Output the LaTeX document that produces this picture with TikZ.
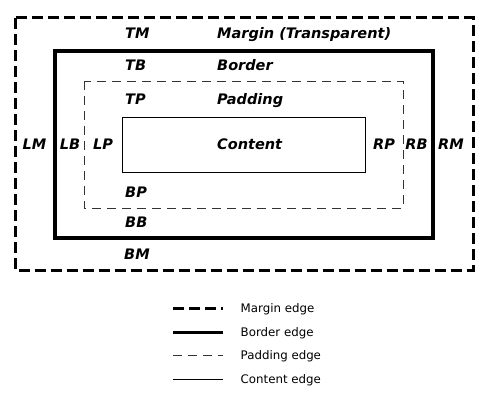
\documentclass[tikz,border=0pt]{standalone}
\usepackage{fontspec}
\setmainfont{DejaVu Sans}
\usetikzlibrary{positioning}
\tikzset{
  marginedge/.style={line width=3pt,dash pattern=on 11pt off 5pt},
  borderedge/.style={line width=3.2pt},
  paddingedge/.style={line width=0.9pt,draw=black!80,dash pattern=on 9pt off 6pt},
  contentedge/.style={line width=0.9pt},
  boxlabel/.style={font=\fontsize{14.5}{16}\selectfont\bfseries\itshape,inner sep=0pt},
  keytext/.style={font=\fontsize{11.8}{14}\selectfont,anchor=base west,inner sep=0pt}
}
\begin{document}
\begin{tikzpicture}[x=1pt,y=-1pt]
  \useasboundingbox (0,0) rectangle (501,409);
  % the four nested boxes
  \draw[marginedge] (15,18) rectangle (473,270);
  \draw[borderedge] (55,51) rectangle (433,238);
  \draw[paddingedge] (84,81) rectangle (403,208);
  \draw[contentedge] (122,117) rectangle (365,172);
  % top and bottom labels
  \node[boxlabel,anchor=base west] (tm) at (125,39) {TM};
  \node[boxlabel,anchor=base west] (tb) at (125,71) {TB};
  \node[boxlabel,anchor=base west] (tp) at (125,105) {TP};
  \node[boxlabel,anchor=base west] (bp) at (125,197) {BP};
  \node[boxlabel,anchor=base west] (bb) at (125,227) {BB};
  \node[boxlabel,anchor=base west] (bm) at (124,259) {BM};
  \node[boxlabel,anchor=base west] (margin) at (217,39) {Margin (Transparent)};
  \node[boxlabel,anchor=base west] (border) at (217,71) {Border};
  \node[boxlabel,anchor=base west] (padding) at (217,105) {Padding};
  \node[boxlabel,anchor=base west] (content) at (217,150) {Content};
  % side labels
  \node[boxlabel,anchor=base] (lm) at (34.5,150) {LM};
  \node[boxlabel,anchor=base] (lb) at (70,150) {LB};
  \node[boxlabel,anchor=base] (lp) at (103,150) {LP};
  \node[boxlabel,anchor=base] (rp) at (384,150) {RP};
  \node[boxlabel,anchor=base] (rb) at (416.5,150) {RB};
  \node[boxlabel,anchor=base] (rm) at (451,150) {RM};
  % legend
  \coordinate (k1a) at (173,308); \coordinate (k1b) at (223,308);
  \coordinate (k2a) at (173,332.5); \coordinate (k2b) at (223,332.5);
  \coordinate (k3a) at (173,355.5); \coordinate (k3b) at (223,355.5);
  \coordinate (k4a) at (173,379); \coordinate (k4b) at (223,379);
  \draw[marginedge] (k1a) -- (k1b);
  \draw[borderedge] (k2a) -- (k2b);
  \draw[paddingedge] (k3a) -- (k3b);
  \draw[contentedge] (k4a) -- (k4b);
  \node[keytext] (k1) at (240.5,312) {Margin edge};
  \node[keytext] (k2) at (240.5,336.5) {Border edge};
  \node[keytext] (k3) at (240.5,359.5) {Padding edge};
  \node[keytext] (k4) at (240.5,383) {Content edge};
\end{tikzpicture}
\end{document}
